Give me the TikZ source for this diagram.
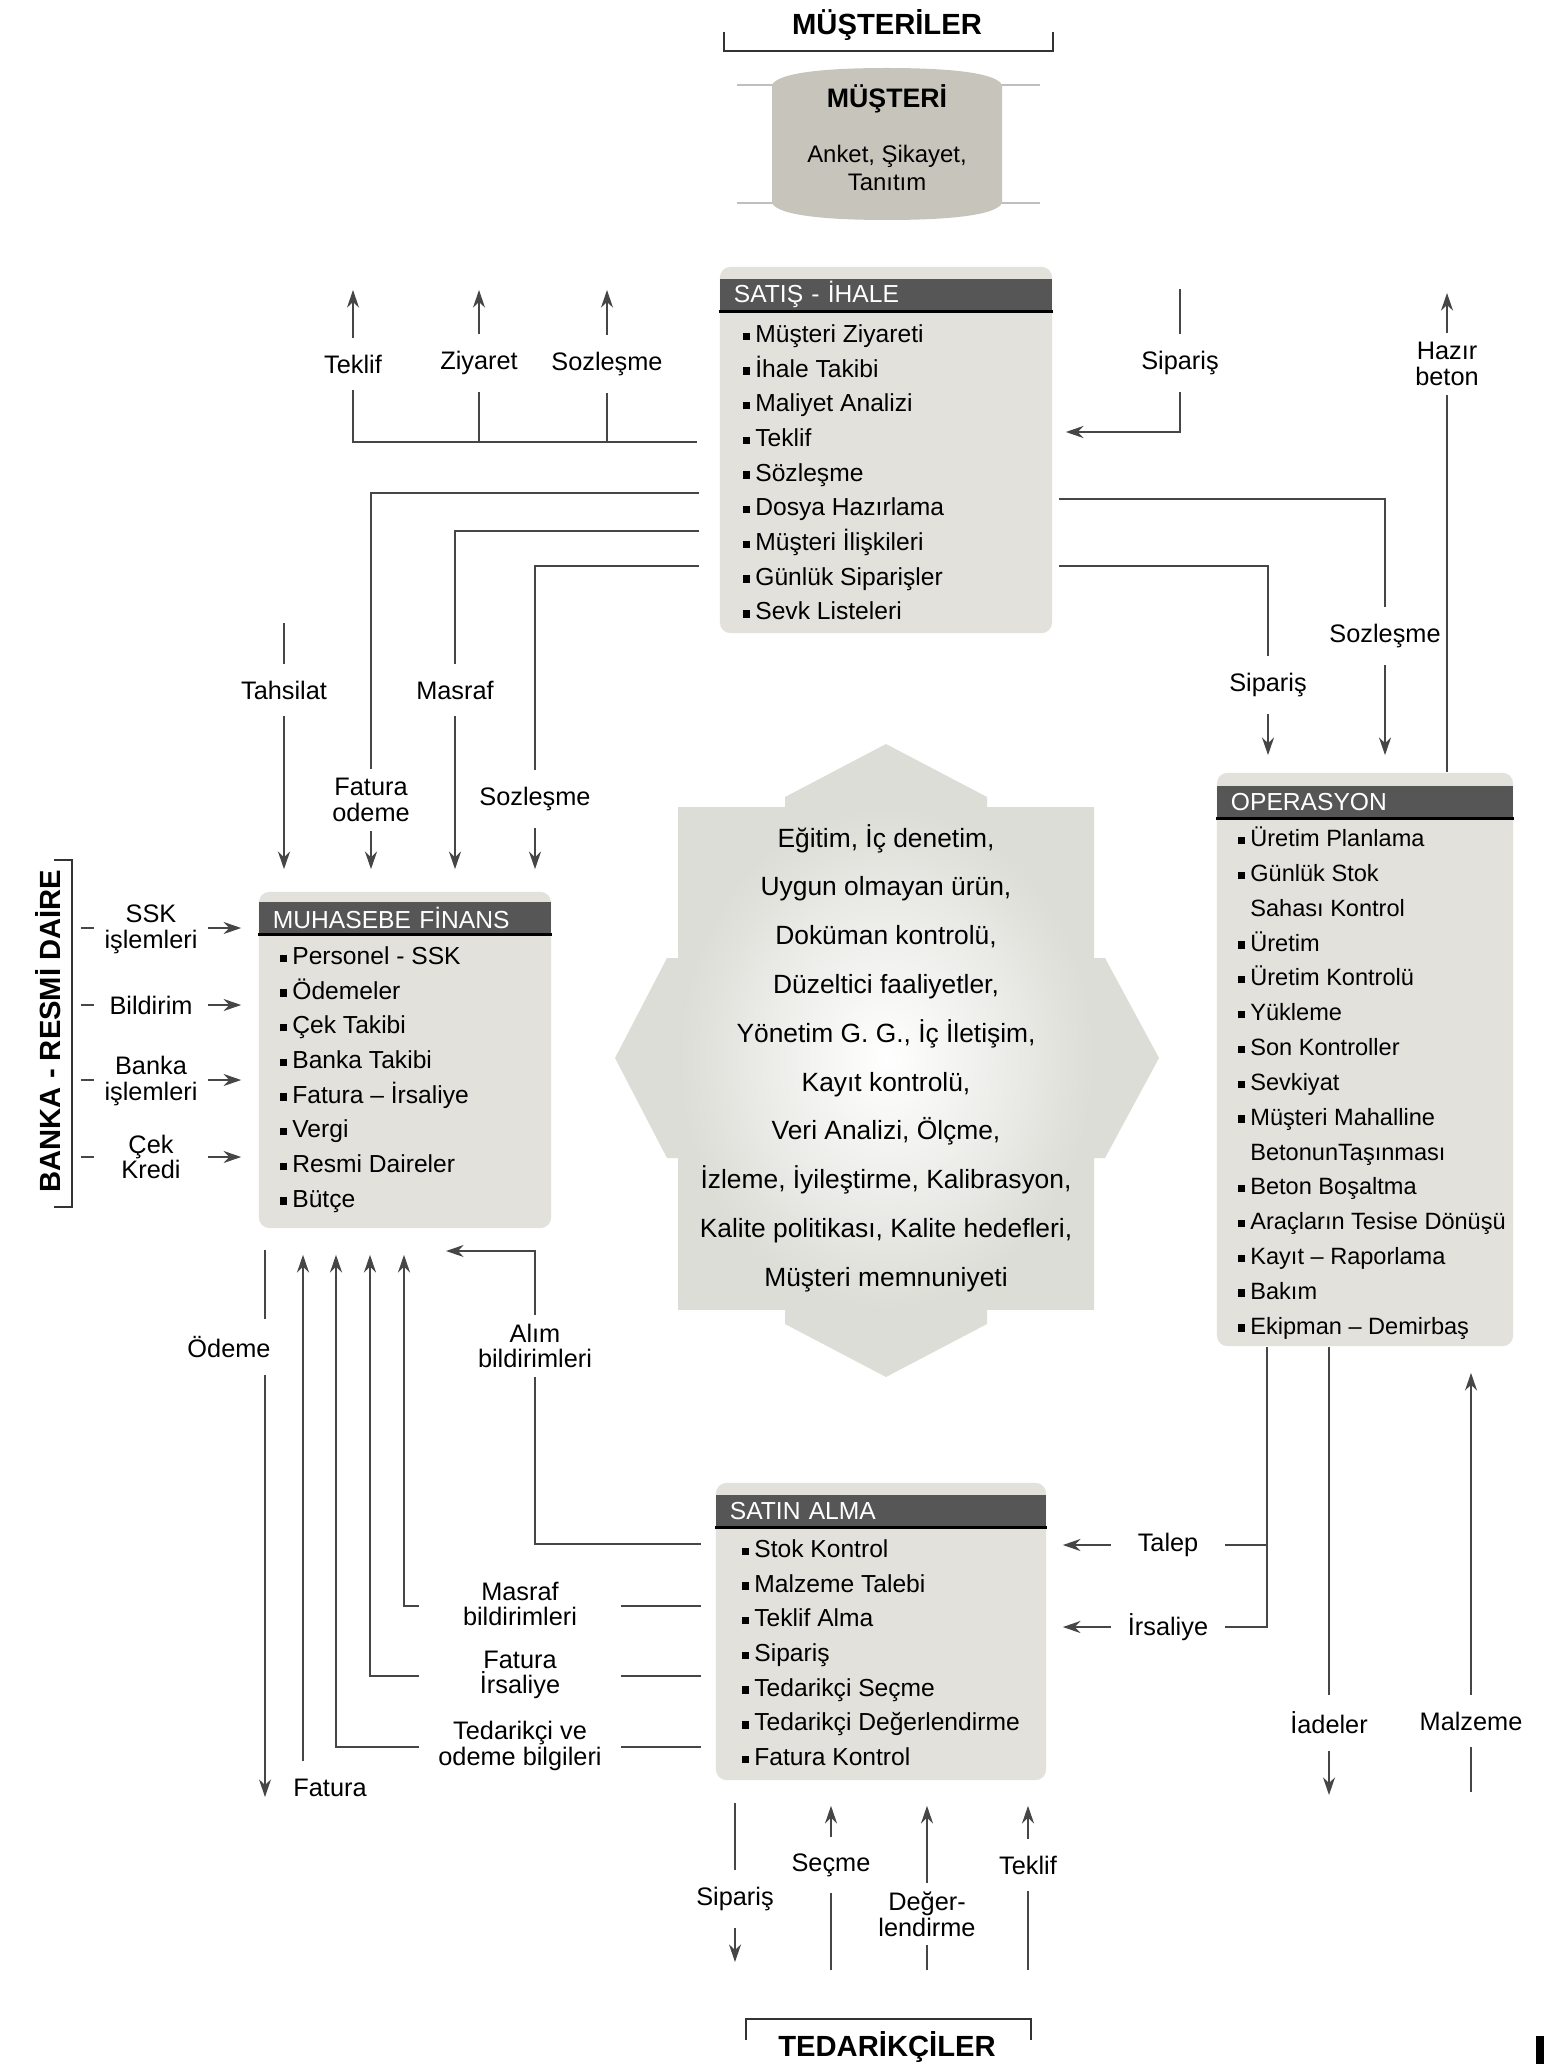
\documentclass[tikz,border=0pt]{standalone}
\usepackage{fontspec}
\setmainfont{Liberation Sans}
\usepackage{xcolor}
\usetikzlibrary{arrows.meta, calc, positioning}

\definecolor{kutugri}{RGB}{226,225,219}
\definecolor{baslikgri}{RGB}{86,86,86}
\definecolor{cizgigri}{RGB}{70,70,70}
\definecolor{mustgri}{RGB}{199,197,187}
\definecolor{okgri}{RGB}{221,221,215}

\newcommand{\bul}{\rule[0.7pt]{2.1pt}{2.1pt}\hspace{1.5pt}}

\begin{document}
\begin{tikzpicture}[x=0.01cm, y=-0.01cm,
    >={Stealth[length=5pt, width=3.4pt, inset=1.6pt]},
    kutu/.style={fill=kutugri, rounded corners=3pt, inner sep=0pt},
    baslik/.style={fill=baslikgri, text=white, anchor=north, align=left,
        inner xsep=0.14cm, inner ysep=0pt, minimum height=0.32cm,
        font=\fontsize{7}{8}\selectfont},
    liste/.style={anchor=north west, align=left, inner sep=0pt,
        font=\fontsize{7}{9.86}\selectfont},
    ok/.style={draw=cizgigri, line width=0.6pt},
    etiket/.style={fill=white, inner xsep=1pt, inner ysep=4.8pt, align=center,
        font=\fontsize{7.2}{7.3}\selectfont},
    etiket2/.style={etiket, inner ysep=2.6pt},
    parantez/.style={draw=black!80, line width=0.7pt},
    buyuk/.style={inner sep=0pt, font=\fontsize{8.3}{9}\selectfont\bfseries}]

    \useasboundingbox (0,0) rectangle (1544,2064);
    \fill[white] (0,0) rectangle (1544,2064);

    % =================================================================
    % ORTA: KALİTE SİSTEMİ (dört yönlü ok)
    % =================================================================
    \fill[okgri] (785,807) -- (785,797) -- (886,744) -- (987,797) -- (987,807) -- cycle;
    \fill[okgri] (785,1309) -- (785,1324) -- (886,1377) -- (987,1324) -- (987,1309) -- cycle;
    \fill[okgri] (678,958) -- (667,958) -- (615,1058) -- (667,1158) -- (678,1158) -- cycle;
    \fill[okgri] (1094,958) -- (1105,958) -- (1159,1058) -- (1105,1158) -- (1094,1158) -- cycle;
    \shade[inner color=white, outer color=okgri] (678,807) rectangle (1094,1309);
    \node[align=center, inner sep=0pt, font=\fontsize{7.5}{13.88}\selectfont] (kalite) at (886,1057)
        {\strut Eğitim, İç denetim,\\Uygun olmayan ürün,\\Doküman kontrolü,\\Düzeltici faaliyetler,\\
         Yönetim G. G., İç İletişim,\\Kayıt kontrolü,\\Veri Analizi, Ölçme,\\
         İzleme, İyileştirme, Kalibrasyon,\\Kalite politikası, Kalite hedefleri,\\Müşteri memnuniyeti\strut};

    % =================================================================
    % MÜŞTERİLER
    % =================================================================
    \node[buyuk] (musteriler) at (887,25) {MÜŞTERİLER};
    \draw[parantez] (724,32) -- (724,51) -- (1053,51) -- (1053,32);

    % Müşteri şeridi (üstü ve altı kavisli)
    \draw[gray!50, line width=0.5pt] (737,85) -- (1040,85);
    \draw[gray!50, line width=0.5pt] (737,203) -- (1040,203);
    \fill[mustgri] (772,85) .. controls (778,72) and (830,68) .. (887,68)
        .. controls (944,68) and (996,72) .. (1002,85) -- (1002,203)
        .. controls (996,216) and (944,220) .. (887,220)
        .. controls (830,220) and (778,216) .. (772,203) -- cycle;
    \node[inner sep=0pt, font=\fontsize{7.6}{8}\selectfont\bfseries] (musteri) at (887,99) {MÜŞTERİ};
    \node[align=center, inner sep=0pt, font=\fontsize{6.8}{7.97}\selectfont] (musteriAlt) at (887,168)
        {Anket, Şikayet,\\Tanıtım};

    % =================================================================
    % KUTULAR
    % =================================================================
    % SATIŞ - İHALE
    \node[kutu, minimum width=3.32cm, minimum height=3.66cm] (sat) at (886,450) {};
    \node[baslik, text width=3.04cm] (satH) at ([yshift=-0.12cm]sat.north) {SATIŞ - İHALE};
    \draw[black, line width=0.9pt] (satH.south west) -- (satH.south east);
    \node[liste] (satL) at (742,317.6) {\strut\bul Müşteri Ziyareti\\\bul İhale Takibi\\\bul Maliyet Analizi\\
        \bul Teklif\\\bul Sözleşme\\\bul Dosya Hazırlama\\\bul Müşteri İlişkileri\\
        \bul Günlük Siparişler\\\bul Sevk Listeleri};

    % OPERASYON
    \node[kutu, minimum width=2.96cm, minimum height=5.73cm] (ops) at (1365,1059.5) {};
    \node[baslik, text width=2.68cm] (opsH) at ([yshift=-0.13cm]ops.north) {OPERASYON};
    \draw[black, line width=0.9pt] (opsH.south west) -- (opsH.south east);
    \node[liste, font=\fontsize{6.7}{9.9}\selectfont] (opsL) at (1237,821.6)
        {\strut\bul Üretim Planlama\\\bul Günlük Stok\\\phantom{\bul}Sahası Kontrol\\\bul Üretim\\
        \bul Üretim Kontrolü\\\bul Yükleme\\\bul Son Kontroller\\\bul Sevkiyat\\
        \bul Müşteri Mahalline\\\phantom{\bul}BetonunTaşınması\\\bul Beton Boşaltma\\
        \bul Araçların Tesise Dönüşü\\\bul Kayıt – Raporlama\\\bul Bakım\\\bul Ekipman – Demirbaş};

    % MUHASEBE FİNANS
    \node[kutu, minimum width=2.92cm, minimum height=3.36cm] (muh) at (405,1060) {};
    \node[baslik, text width=2.64cm] (muhH) at ([yshift=-0.10cm]muh.north) {MUHASEBE FİNANS};
    \draw[black, line width=0.9pt] (muhH.south west) -- (muhH.south east);
    \node[liste] (muhL) at (279,939.6) {\strut\bul Personel - SSK\\\bul Ödemeler\\\bul Çek Takibi\\
        \bul Banka Takibi\\\bul Fatura – İrsaliye\\\bul Vergi\\\bul Resmi Daireler\\\bul Bütçe};

    % SATIN ALMA
    \node[kutu, minimum width=3.30cm, minimum height=2.97cm] (sa) at (881,1631.5) {};
    \node[baslik, text width=3.02cm] (saH) at ([yshift=-0.12cm]sa.north) {SATIN ALMA};
    \draw[black, line width=0.9pt] (saH.south west) -- (saH.south east);
    \node[liste] (saL) at (741,1532.6) {\strut\bul Stok Kontrol\\\bul Malzeme Talebi\\\bul Teklif Alma\\
        \bul Sipariş\\\bul Tedarikçi Seçme\\\bul Tedarikçi Değerlendirme\\\bul Fatura Kontrol};

    % =================================================================
    % BAĞLANTILAR
    % =================================================================
    % Satış: teklif, ziyaret, sözleşme (yukarı)
    \coordinate (k1) at (353,442);
    \coordinate (tk) at (353,290);
    \coordinate (zy) at (479,290);
    \coordinate (sz) at (607,290);
    \draw[ok, ->, shorten <=0.22cm] (sat.west |- k1) -- (k1) -- (tk);
    \draw[ok, ->] (zy |- k1) -- (zy);
    \draw[ok, ->] (sz |- k1) -- (sz);

    % Sipariş -> Satış
    \coordinate (sp1) at (1180,289);
    \coordinate (sp2) at (1180,432);
    \draw[ok, ->, shorten >=0.13cm] (sp1) -- (sp2) -- (sat.east |- sp2);

    % Hazır beton (Operasyon -> yukarı)
    \coordinate (hb) at (1447,293);
    \draw[ok, ->] (ops.north -| hb) -- (hb);

    % Satış -> Operasyon
    \coordinate (so) at (1385,499);
    \coordinate (sp3) at (1268,566);
    \draw[ok, ->, shorten <=0.06cm, shorten >=0.17cm] (sat.east |- so) -- (so) -- (ops.north -| so);
    \draw[ok, ->, shorten <=0.06cm, shorten >=0.17cm] (sat.east |- sp3) -- (sp3) -- (ops.north -| sp3);

    % Satış -> Muhasebe
    \coordinate (fo) at (371,493);
    \coordinate (ms) at (455,531);
    \coordinate (sm) at (535,566);
    \coordinate (th) at (284,623);
    \draw[ok, ->, shorten <=0.2cm, shorten >=0.22cm] (sat.west |- fo) -- (fo) -- (muh.north -| fo);
    \draw[ok, ->, shorten <=0.2cm, shorten >=0.22cm] (sat.west |- ms) -- (ms) -- (muh.north -| ms);
    \draw[ok, ->, shorten <=0.2cm, shorten >=0.22cm] (sat.west |- sm) -- (sm) -- (muh.north -| sm);
    \draw[ok, ->, shorten >=0.22cm] (th) -- (muh.north -| th);

    % Banka - Resmi Daire -> Muhasebe
    \coordinate (b1) at (81,928);
    \coordinate (b2) at (81,1005);
    \coordinate (b3) at (81,1080);
    \coordinate (b4) at (81,1157);
    \draw[ok, ->, shorten >=0.17cm] (b1) -- (muh.west |- b1);
    \draw[ok, ->, shorten >=0.17cm] (b2) -- (muh.west |- b2);
    \draw[ok, ->, shorten >=0.17cm] (b3) -- (muh.west |- b3);
    \draw[ok, ->, shorten >=0.17cm] (b4) -- (muh.west |- b4);

    % Muhasebe alt: ödeme, fatura
    \coordinate (od) at (265,1797);
    \coordinate (fa) at (303,1761);
    \draw[ok, ->, shorten <=0.21cm] (muh.south -| od) -- (od);
    \draw[ok, ->, shorten >=0.26cm] (fa) -- (muh.south -| fa);

    % Satın alma -> Muhasebe
    \coordinate (tdk) at (336,1747);
    \coordinate (fi) at (370,1676);
    \coordinate (mb) at (404,1606);
    \draw[ok, ->, shorten <=0.14cm, shorten >=0.26cm] (sa.west |- tdk) -- (tdk) -- (muh.south -| tdk);
    \draw[ok, ->, shorten <=0.14cm, shorten >=0.26cm] (sa.west |- fi) -- (fi) -- (muh.south -| fi);
    \draw[ok, ->, shorten <=0.14cm, shorten >=0.26cm] (sa.west |- mb) -- (mb) -- (muh.south -| mb);

    % Alım bildirimleri
    \coordinate (ab1) at (535,1544);
    \coordinate (ab2) at (535,1251);
    \coordinate (ab3) at (446,1251);
    \draw[ok, ->, shorten <=0.14cm] (sa.west |- ab1) -- (ab1) -- (ab2) -- (ab3);

    % Operasyon -> Satın alma: talep, irsaliye
    \coordinate (ta) at (1267,1545);
    \coordinate (ir) at (1267,1627);
    \draw[ok, ->, shorten >=0.16cm] (ops.south -| ir) -- (ir) -- (sa.east |- ir);
    \draw[ok, ->, shorten >=0.16cm] (ta) -- (sa.east |- ta);

    % İadeler, malzeme
    \coordinate (ia) at (1329,1795);
    \coordinate (mz) at (1471,1792);
    \draw[ok, ->] (ops.south -| ia) -- (ia);
    \draw[ok, ->, shorten >=0.26cm] (mz) -- (ops.south -| mz);

    % Satın alma <-> Tedarikçiler
    \coordinate (bs) at (735,1962);
    \coordinate (bc) at (831,1970);
    \coordinate (bd) at (927,1970);
    \coordinate (bt) at (1028,1970);
    \draw[ok, ->, shorten <=0.22cm] (sa.south -| bs) -- (bs);
    \draw[ok, ->, shorten >=0.25cm] (bc) -- (sa.south -| bc);
    \draw[ok, ->, shorten >=0.25cm] (bd) -- (sa.south -| bd);
    \draw[ok, ->, shorten >=0.25cm] (bt) -- (sa.south -| bt);

    % =================================================================
    % ETİKETLER
    % =================================================================
    \node[etiket] (lTeklif) at (353,364) {Teklif};
    \node[etiket] (lZiyaret) at (479,363) {Ziyaret};
    \node[etiket] (lSoz1) at (607,364) {Sozleşme};
    \node[etiket] (lSip1) at (1180,363) {Sipariş};
    \node[etiket2] (lHazir) at (1447,364) {Hazır\\beton};
    \node[etiket] (lSoz2) at (1385,636) {Sozleşme};
    \node[etiket] (lSip2) at (1268,685) {Sipariş};

    \node[etiket] (lTahsilat) at (284,690) {Tahsilat};
    \node[etiket2] (lFatOd) at (371,800) {Fatura\\odeme};
    \node[etiket] (lMasraf) at (455,690) {Masraf};
    \node[etiket] (lSoz3) at (535,799) {Sozleşme};

    \node[etiket2, minimum width=1.13cm] (lSSK) at (151,929) {SSK\\işlemleri};
    \node[etiket, minimum width=1.13cm] (lBildirim) at (151,1005) {Bildirim};
    \node[etiket2, minimum width=1.13cm] (lBanka) at (151,1081) {Banka\\işlemleri};
    \node[etiket2, minimum width=1.13cm] (lCek) at (151,1157) {Çek\\Kredi};

    \node[etiket, minimum width=0.8cm] (lOdeme) at (229,1347) {Ödeme};
    \node[etiket] (lFatura) at (330,1788) {Fatura};
    \node[etiket2] (lAlim) at (535,1346) {Alım\\bildirimleri};
    \node[etiket2, minimum width=2.02cm] (lMasrafB) at (520,1604) {Masraf\\bildirimleri};
    \node[etiket2, minimum width=2.02cm] (lFatIr) at (520,1675) {Fatura\\İrsaliye};
    \node[etiket2, minimum width=2.02cm] (lTedOd) at (520,1746) {Tedarikçi ve\\odeme bilgileri};

    \node[etiket, minimum width=1.13cm] (lTalep) at (1168,1545) {Talep};
    \node[etiket, minimum width=1.13cm] (lIrs) at (1168,1627) {İrsaliye};
    \node[etiket] (lIade) at (1329,1723) {İadeler};
    \node[etiket] (lMalz) at (1471,1721) {Malzeme};

    \node[etiket] (lSip3) at (735,1899) {Sipariş};
    \node[etiket] (lSecme) at (831,1865) {Seçme};
    \node[etiket2] (lDeger) at (927,1914) {Değer-\\lendirme};
    \node[etiket] (lTeklif2) at (1028,1865) {Teklif};

    % =================================================================
    % BANKA - RESMİ DAİRE ve TEDARİKÇİLER
    % =================================================================
    \node[buyuk, rotate=90] (banka) at (48,1031) {BANKA - RESMİ DAİRE};
    \draw[parantez] (54,860) -- (72,860) -- (72,1207) -- (54,1207);

    \node[buyuk] (tedarik) at (887,2047) {TEDARİKÇİLER};
    \draw[parantez] (746,2040) -- (746,2019) -- (1031,2019) -- (1031,2040);

    \fill[black] (1536,2036) rectangle (1544,2064);

\end{tikzpicture}
\end{document}
